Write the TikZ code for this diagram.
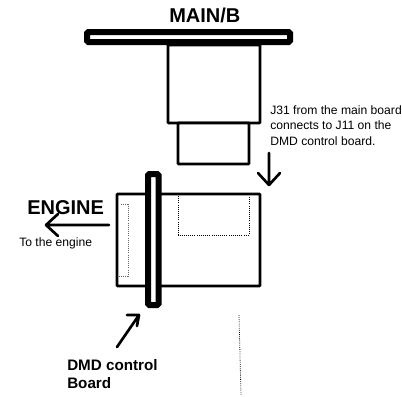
\documentclass[tikz,border=0pt]{standalone}
\usepackage{fontspec}
\setmainfont{Liberation Sans}
\tikzset{
  x=0.75pt,y=-0.75pt,
  heavy/.style={draw=black,line width=4.5pt,rounded corners=1pt,fill=white},
  box/.style={draw=black,line width=2pt,rounded corners=0.5pt,fill=white},
  dots/.style={draw=black,line width=0.6pt,densely dotted},
  arrowline/.style={draw=black,line width=2pt,line cap=round,line join=round},
  lab/.style={inner sep=0pt,anchor=base west,align=left},
  big/.style={lab,font=\fontsize{15}{18}\selectfont\bfseries},
  mid/.style={lab,font=\fontsize{11.4}{13}\selectfont\bfseries},
  small/.style={lab,font=\fontsize{9.1}{11.6}\selectfont}
}
\begin{document}
\begin{tikzpicture}
\useasboundingbox[clip] (0,0) rectangle (402,396);
\draw[box] (168,45) rectangle (260,123);
\draw[box] (178,123) rectangle (249,164);
\draw[heavy] (87,32) rectangle (290,42);
\draw[box] (117,194) rectangle (260,286);
\draw[dots] (178,196) -- (178,235) -- (249,235) -- (249,196);
\draw[dots,draw=black!60] (121,204) -- (128,204) -- (128,276) -- (119,276);
\draw[heavy] (148,174) rectangle (158.5,305);
\coordinate (e1) at (109,225); \coordinate (e2) at (46,225);
\draw[arrowline] (e1) -- (e2) -- +(12,-11) (e2) -- +(12,11);
\coordinate (d1) at (269,153); \coordinate (d2) at (269,185);
\draw[arrowline] (d1) -- (d2) -- +(-11,-12) (d2) -- +(11,-12);
\coordinate (b1) at (117,347); \coordinate (b2) at (139,315);
\draw[arrowline] (b1) -- (b2) -- +(-12,0) (b2) -- +(-2,11);
\coordinate (v1) at (239,315); \coordinate (v2) at (241,395);
\draw[dots] (v1) -- (v2);
\node[big] (main) at (169,22) {MAIN/B};
\node[big] (eng) at (27,214) {ENGINE};
\node[small] (to) at (19,246) {To the engine};
\node[mid] (dmd) at (67,388) {DMD control\\Board};
\node[small] (j) at (270,145) {J31 from the main board\\connects to J11 on the\\DMD control board.};
\end{tikzpicture}
\end{document}
